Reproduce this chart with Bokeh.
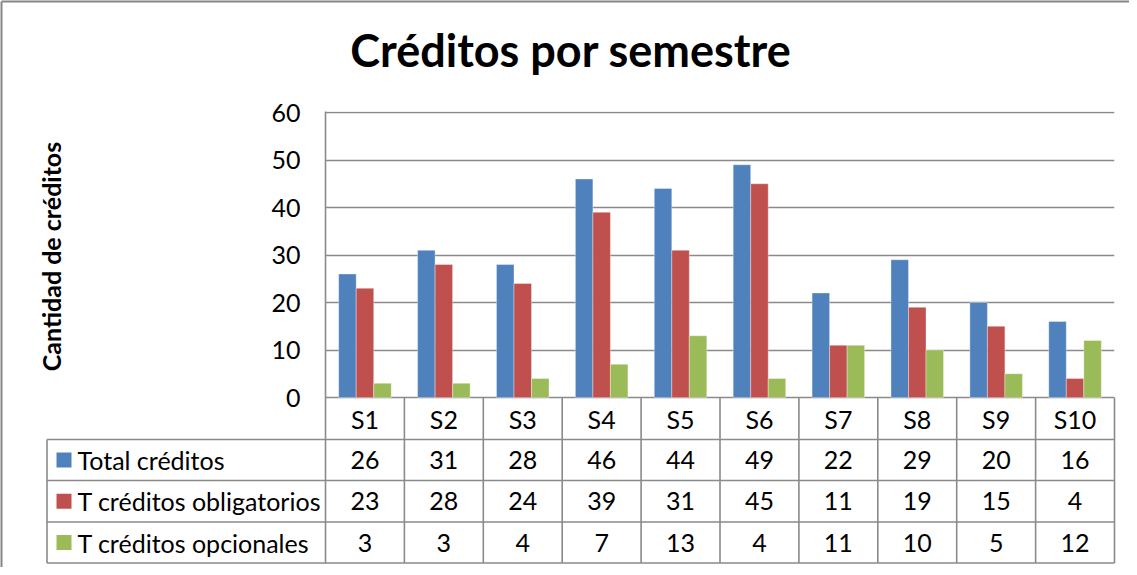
import math
from bokeh.plotting import figure
from bokeh.models import FactorRange, Range1d, FixedTicker, ColumnDataSource
from bokeh.transform import dodge
from bokeh.core.properties import value
from bokeh.embed import file_html
from bokeh.resources import INLINE

# ---------------- data ----------------
semestres = ["S1", "S2", "S3", "S4", "S5", "S6", "S7", "S8", "S9", "S10"]
total_creditos = [26, 31, 28, 46, 44, 49, 22, 29, 20, 16]
creditos_obligatorios = [23, 28, 24, 39, 31, 45, 11, 19, 15, 4]
creditos_opcionales = [3, 3, 4, 7, 13, 4, 11, 10, 5, 12]
series_names = ["Total créditos", "T créditos obligatorios", "T créditos opcionales"]
series_colors = ["#4F81BD", "#C0504D", "#9BBB59"]
y_ticks = [0, 10, 20, 30, 40, 50, 60]
title_text = "Créditos por semestre"
y_label_text = "Cantidad de créditos"

# ---------------- geometry (page pixels) ----------------
W, H = 1129, 567
PAGE = 8
FRAME_L, FRAME_R, FRAME_T, FRAME_B = 333, 1122, 119, 572
Y0_PX, PX_PER_UNIT = 405.0, 285.0 / 60.0
PX_PER_CAT = (FRAME_R - FRAME_L) / len(semestres)


def xd(px):
    return (px - FRAME_L) / PX_PER_CAT


def yd(py):
    return (Y0_PX - py) / PX_PER_UNIT


FONT_NAME = "Lato"
FONT = value(FONT_NAME)
GRID = "#8a8a8a"
TXT = "25px"

p = figure(
    width=W, height=H,
    x_range=FactorRange(factors=semestres, range_padding=0, factor_padding=0),
    y_range=Range1d(yd(FRAME_B), yd(FRAME_T)),
    output_backend="svg", toolbar_location=None,
    min_border_left=FRAME_L - PAGE, min_border_right=W - (FRAME_R - PAGE),
    min_border_top=FRAME_T - PAGE, min_border_bottom=H - (FRAME_B - PAGE),
)
p.outline_line_color = None
p.background_fill_color = "white"
p.border_fill_color = "white"

# axes
p.xaxis.visible = False
p.xgrid.visible = False
p.yaxis.ticker = FixedTicker(ticks=y_ticks)
p.yaxis.bounds = (yd(571), y_ticks[-1] + 0.2)
p.yaxis.major_tick_out = 0
p.yaxis.major_tick_in = 0
p.yaxis.minor_tick_out = 0
p.yaxis.minor_tick_in = 0
p.yaxis.axis_line_color = GRID
p.yaxis.axis_line_width = 1.6
p.yaxis.major_label_standoff = 25
p.yaxis.major_label_text_font = FONT_NAME
p.yaxis.major_label_text_font_size = TXT
p.yaxis.major_label_text_color = "black"
p.ygrid.ticker = FixedTicker(ticks=y_ticks)
p.ygrid.grid_line_color = GRID
p.ygrid.grid_line_width = 1.6

# bars
src = ColumnDataSource(dict(
    sem=semestres, total=total_creditos, obl=creditos_obligatorios, opc=creditos_opcionales,
    total_s=[str(v) for v in total_creditos], obl_s=[str(v) for v in creditos_obligatorios],
    opc_s=[str(v) for v in creditos_opcionales],
))
BW = 0.222
for col, off, color, name in zip(["total", "obl", "opc"], [-BW, 0.0, BW], series_colors, series_names):
    p.vbar(x=dodge("sem", off, range=p.x_range), top=col, width=BW, source=src,
           fill_color=color, line_color="white", line_alpha=0.35, line_width=1)

# ---------------- data table ----------------
row_lines_px = [447, 488, 529.5, 570.5]
row_lines = [yd(v) for v in row_lines_px]
cat_row_y = yd((Y0_PX + 447) / 2)
row_centers = [yd((447 + 488) / 2), yd((488 + 529.5) / 2), yd((529.5 + 570.5) / 2)]
leg_left = xd(54.5)

# horizontal table lines
p.segment(x0=[leg_left] * len(row_lines), y0=row_lines, x1=[len(semestres)] * len(row_lines), y1=row_lines,
          line_color=GRID, line_width=1.6, level="overlay")
# vertical category lines (down from the axis)
bounds = list(range(1, len(semestres) + 1))
p.segment(x0=bounds, y0=[0] * len(bounds), x1=bounds, y1=[row_lines[-1]] * len(bounds),
          line_color=GRID, line_width=1.6, level="overlay")
# legend column left edge
p.segment(x0=[leg_left], y0=[row_lines[0]], x1=[leg_left], y1=[row_lines[-1]],
          line_color=GRID, line_width=1.6, level="overlay")

# category labels
p.text(x="sem", y=cat_row_y, text="sem", source=src, text_align="center", text_baseline="middle",
       text_font=FONT, text_font_size=TXT, text_color="black", level="overlay")
# values
for col, yc in zip(["total_s", "obl_s", "opc_s"], row_centers):
    p.text(x="sem", y=yc, text=col, source=src, text_align="center", text_baseline="middle",
           text_font=FONT, text_font_size=TXT, text_color="black", level="overlay")

# legend keys (coloured squares) and names
half_h = 7.5 / PX_PER_UNIT
leg_src = ColumnDataSource(dict(
    y=row_centers, top=[v + half_h for v in row_centers], bottom=[v - half_h for v in row_centers],
    name=series_names, color=series_colors))
p.quad(left=xd(64), right=xd(79), top="top", bottom="bottom", fill_color="color", line_color=None,
       source=leg_src, level="overlay")
p.text(x=xd(85), y="y", text="name", source=leg_src, text_align="left", text_baseline="middle",
       text_font=FONT, text_font_size=TXT, text_color="black", level="overlay")

# outer chart border (left and top visible)
p.segment(x0=[xd(9), xd(9)], y0=[yd(9), yd(9)], x1=[xd(9), xd(1145)], y1=[yd(590), yd(9)],
          line_color="#868686", line_width=2, level="overlay")

# title and axis title
p.text(x=[xd(578.5)], y=[yd(57)], text=[title_text], text_align="center", text_baseline="middle",
       text_font=FONT, text_font_size="45px", text_font_style="bold", text_color="black", level="overlay")
p.text(x=[xd(59)], y=[yd(264)], text=[y_label_text], angle=math.pi / 2, text_align="center",
       text_baseline="middle", text_font=FONT, text_font_size="25px",
       text_font_style="bold", text_color="black", level="overlay")

open("out.html", "w").write(file_html(p, INLINE))
